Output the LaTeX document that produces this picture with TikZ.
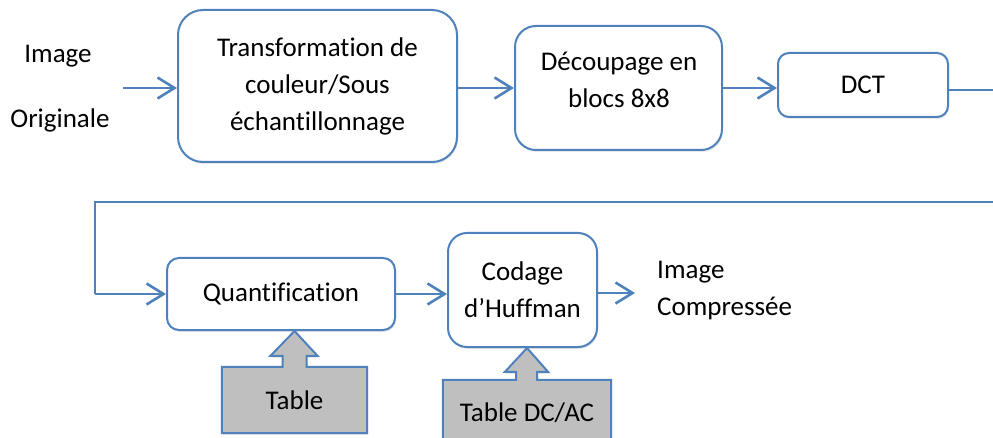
\documentclass[tikz,border=0pt]{standalone}
\usepackage{fontspec}
\setmainfont[Ligatures=NoCommon]{Carlito}
\usetikzlibrary{arrows.meta,calc,shadows}
\definecolor{lblue}{RGB}{79,129,189}
\definecolor{tgray}{RGB}{191,191,191}
\begin{document}
\begin{tikzpicture}[x=1pt,y=-1pt,
  every node/.style={font=\fontsize{27}{37}\selectfont,inner sep=0pt,align=center},
  box/.style={draw=lblue,line width=2pt,fill=white,
    drop shadow={opacity=0.18,shadow xshift=1pt,shadow yshift=-2pt}},
  flow/.style={draw=lblue,line width=2.6pt,-{Straight Barb[length=17pt,width=21pt]}},
  blockarrow/.style={draw=lblue,line width=2pt,fill=tgray,
    drop shadow={opacity=0.18,shadow xshift=1pt,shadow yshift=-2pt}},
  plain/.style={text=black}]
\useasboundingbox (0,0) rectangle (993,438);
\clip (0,0) rectangle (993,438);

% first row
\node[plain] (in1) at (58,56) {Image};
\node[plain] (in2) at (60,120) {Originale};
\coordinate (inA) at (123,88);
\node[box,rounded corners=25pt,minimum width=279pt,minimum height=152pt] (b1) at (317.5,86)
  {Transformation de\\couleur/Sous\\échantillonnage};
\node[box,rounded corners=21pt,minimum width=207pt,minimum height=124pt] (b2) at (618.5,88) {};
\node[plain] (b2t) at (619,80) {Découpage en\\blocs 8x8};
\node[box,rounded corners=11pt,minimum width=170pt,minimum height=64pt] (b3) at (863,85) {DCT};

% second row
\node[box,rounded corners=12pt,minimum width=228pt,minimum height=72pt] (q) at (281,294) {Quantification};
\node[box,rounded corners=19pt,minimum width=149pt,minimum height=114pt] (h) at (522.5,290) {Codage\\d’Huffman};
\coordinate (outA) at (635,293);
\node[plain,anchor=west,align=left] (out) at (657,291) {Image\\Compressée};

% tables
\node[minimum width=145pt,minimum height=66pt] (tq) at (294.5,400) {};
\node[minimum width=168pt,minimum height=70pt] (th) at (527,415) {};
\draw[blockarrow] (tq.south west) -- (tq.north west) -- ($(tq.north)+(-12,0)$)
  -- ($(tq.north)+(-12,-11)$) -- ($(tq.north)+(-24,-11)$) -- (tq.north |- q.south)
  -- ($(tq.north)+(23,-11)$) -- ($(tq.north)+(12,-11)$) -- ($(tq.north)+(12,0)$)
  -- (tq.north east) -- (tq.south east) -- cycle;
\node[plain] (tqt) at (tq.center) {Table};
\draw[blockarrow] (th.south west) -- (th.north west) -- ($(th.north)+(-11,0)$)
  -- ($(th.north)+(-11,-8)$) -- ($(th.north)+(-22,-8)$) -- (th.north |- h.south)
  -- ($(th.north)+(21,-8)$) -- ($(th.north)+(10,-8)$) -- ($(th.north)+(10,0)$)
  -- (th.north east) -- (th.south east) -- cycle;
\node[plain] (tht) at (527,413) {Table DC/AC};

% connectors
\coordinate (turnR) at (1000,202);
\coordinate (turnL) at (95,202);
\draw[flow] (inA) -- (b1.west |- inA);
\draw[flow] (b1.east |- inA) -- (b2.west |- inA);
\draw[flow] (b2.east |- inA) -- (b3.west |- inA);
\draw[draw=lblue,line width=2.6pt] ([yshift=-5pt]b3.east) -| (turnR) -- (turnL) -- (turnL |- q.west);
\draw[flow] (turnL |- q.west) -- (q.west);
\draw[flow] (q.east) -- (h.west |- q.east);
\draw[flow] (h.east |- outA) -- (outA);
\end{tikzpicture}
\end{document}
